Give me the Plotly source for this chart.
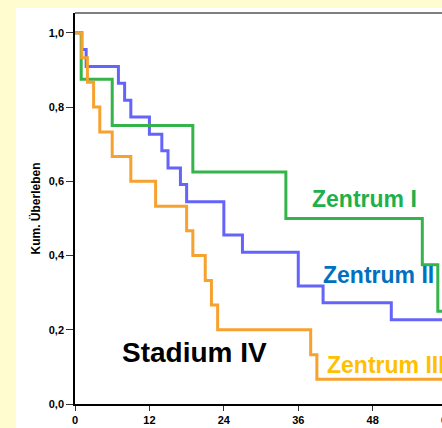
import plotly.graph_objects as go

# Zentrum I (green)
t1 = [0, 1, 6, 19, 34, 56, 58.5, 60]
s1 = [1.0, 0.875, 0.75, 0.625, 0.5, 0.375, 0.25, 0.25]
# Zentrum II (blue)
t2 = [0, 1.1, 1.8, 7, 8, 9, 12, 14, 15, 17, 18, 24, 27, 36, 40, 51, 60]
s2 = [1.0, 0.955, 0.909, 0.864, 0.818, 0.773, 0.727, 0.682, 0.636, 0.591, 0.545,
      0.455, 0.409, 0.318, 0.273, 0.227, 0.227]
# Zentrum III (orange)
t3 = [0, 1.1, 2, 3, 4, 6, 9, 13, 18, 19, 21, 22, 23, 38, 39, 60]
s3 = [1.0, 0.933, 0.867, 0.8, 0.733, 0.667, 0.6, 0.533, 0.467, 0.4, 0.333, 0.267,
      0.2, 0.133, 0.067, 0.067]

xticks = [0, 12, 24, 36, 48]
yticks = [0.0, 0.2, 0.4, 0.6, 0.8, 1.0]
yticklabels = ["0,0", "0,2", "0,4", "0,6", "0,8", "1,0"]

FONT = "Arial, Liberation Sans, sans-serif"

fig = go.Figure()
fig.add_trace(go.Scatter(x=t2, y=s2, mode="lines", line=dict(shape="hv", color="#6464FA", width=3), hoverinfo="skip"))
fig.add_trace(go.Scatter(x=t1, y=s1, mode="lines", line=dict(shape="hv", color="#34B44A", width=3), hoverinfo="skip"))
fig.add_trace(go.Scatter(x=t3, y=s3, mode="lines", line=dict(shape="hv", color="#F7A12E", width=3), hoverinfo="skip"))

W, H = 442, 428
L, R, T, B = 75, 0, 13, 24
pw = W - L - R
ph = H - T - B

def px_to_paper_x(px):
    return (px - L) / pw

def px_to_paper_y(py):
    return (H - B - py) / ph

fig.update_layout(
    width=W, height=H,
    margin=dict(l=L, r=R, t=T, b=B),
    paper_bgcolor="#FFFDD0",
    plot_bgcolor="white",
    showlegend=False,
    font=dict(family=FONT, color="black"),
    xaxis=dict(range=[0, pw / 6.202], tickvals=xticks, ticktext=[str(v) for v in xticks],
               showgrid=False, zeroline=False, showline=True, linecolor="black", linewidth=1.5,
               ticks="outside", ticklen=5, tickwidth=1.2, tickcolor="#333333",
               tickfont=dict(size=11, family=FONT, weight="bold")),
    yaxis=dict(range=[0, ph / 371.2], tickvals=yticks, ticktext=yticklabels,
               showgrid=False, zeroline=False, showline=True, linecolor="black", linewidth=1.5,
               ticks="outside", ticklen=7, tickwidth=1.2, tickcolor="#333333",
               tickfont=dict(size=11, family=FONT, weight="bold"),
               title=dict(text="Kum. Überleben", font=dict(size=12, family=FONT, weight="bold"), standoff=6)),
    shapes=[
        dict(type="rect", xref="paper", yref="paper", layer="below",
             x0=px_to_paper_x(16), x1=px_to_paper_x(460), y0=px_to_paper_y(440), y1=px_to_paper_y(8),
             fillcolor="white", line=dict(width=0)),
        dict(type="line", xref="paper", yref="paper", x0=0, x1=1.05, y0=1, y1=1,
             line=dict(color="#7F7F7F", width=2)),
    ],
    annotations=[
        dict(x=46.6, y=0.552, xref="x", yref="y", text="Zentrum I", showarrow=False,
             xanchor="center", yanchor="middle",
             font=dict(size=23, color="#1DB04B", family=FONT, weight="bold")),
        dict(x=39.7, y=0.347, xref="x", yref="y", text="Zentrum II", showarrow=False,
             xanchor="left", yanchor="middle",
             font=dict(size=23, color="#0070C0", family=FONT, weight="bold")),
        dict(x=40.3, y=0.104, xref="x", yref="y", text="Zentrum III", showarrow=False,
             xanchor="left", yanchor="middle",
             font=dict(size=23, color="#FFC000", family=FONT, weight="bold")),
        dict(x=7.3, y=0.138, xref="x", yref="y", text="Stadium IV", showarrow=False,
             xanchor="left", yanchor="middle",
             font=dict(size=28, color="black", family=FONT, weight="bold")),
        dict(x=px_to_paper_x(447), y=px_to_paper_y(420), xref="paper", yref="paper", text="60",
             showarrow=False, xanchor="center", yanchor="middle",
             font=dict(size=11, color="black", family=FONT, weight="bold")),
    ],
)

fig.write_html("out.html")
